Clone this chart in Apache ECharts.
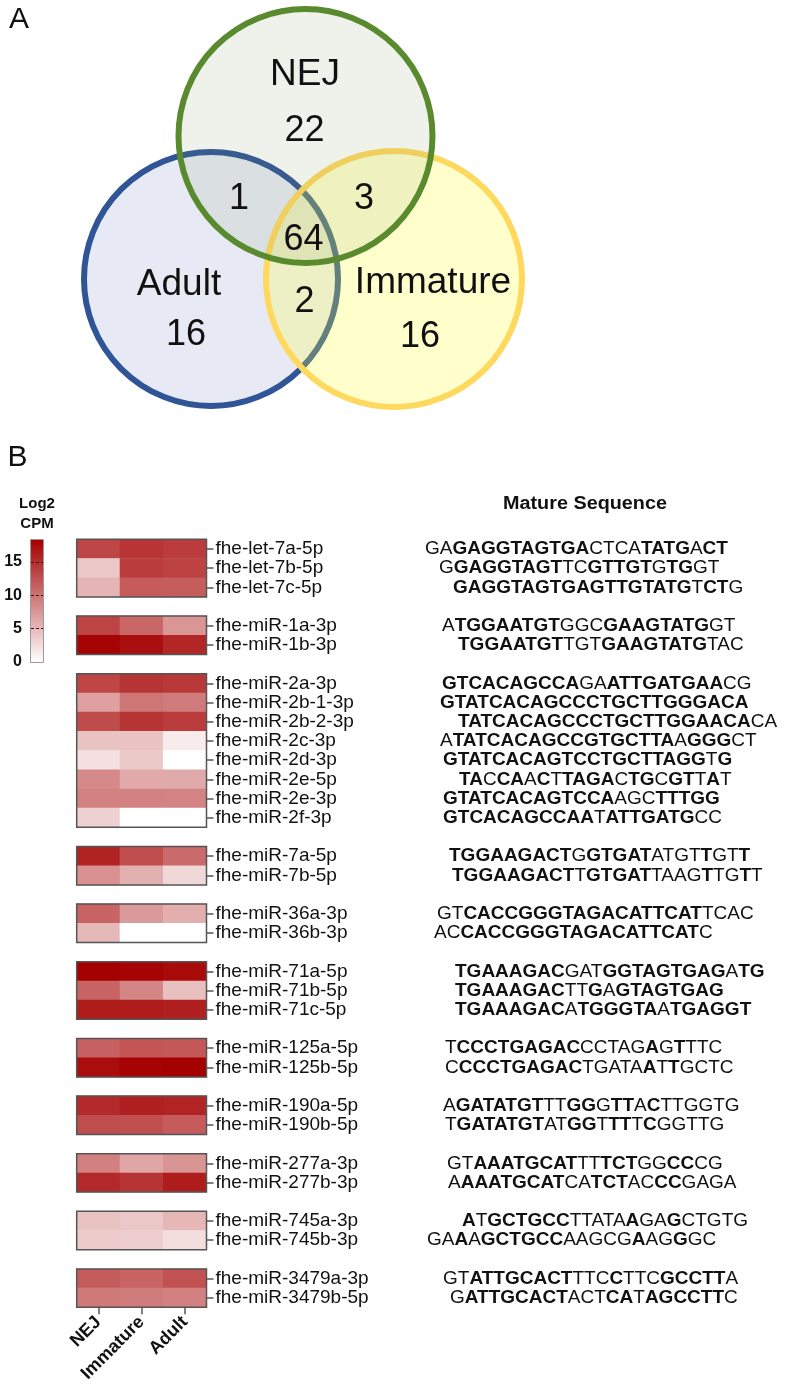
<!DOCTYPE html>
<html><head><meta charset="utf-8">
<script src="https://cdn.jsdelivr.net/npm/echarts@6/dist/echarts.min.js"></script>
<style>html,body{margin:0;padding:0;background:#fff}#c{width:786px;height:1395px}</style>
</head><body><div id="c"></div>
<script>
// ---------------- DATA ----------------
const vennRegions = ['NEJ', 'Adult', 'Immature', 'NEJ∩Adult', 'NEJ∩Immature', 'Adult∩Immature', 'NEJ∩Adult∩Immature'];
const vennCounts  = [22, 16, 16, 1, 3, 2, 64];

const stages = ['NEJ', 'Immature', 'Adult'];
const miRNAs = [
  'fhe-let-7a-5p','fhe-let-7b-5p','fhe-let-7c-5p',
  'fhe-miR-1a-3p','fhe-miR-1b-3p',
  'fhe-miR-2a-3p','fhe-miR-2b-1-3p','fhe-miR-2b-2-3p','fhe-miR-2c-3p','fhe-miR-2d-3p','fhe-miR-2e-5p','fhe-miR-2e-3p','fhe-miR-2f-3p',
  'fhe-miR-7a-5p','fhe-miR-7b-5p',
  'fhe-miR-36a-3p','fhe-miR-36b-3p',
  'fhe-miR-71a-5p','fhe-miR-71b-5p','fhe-miR-71c-5p',
  'fhe-miR-125a-5p','fhe-miR-125b-5p',
  'fhe-miR-190a-5p','fhe-miR-190b-5p',
  'fhe-miR-277a-3p','fhe-miR-277b-3p',
  'fhe-miR-745a-3p','fhe-miR-745b-3p',
  'fhe-miR-3479a-3p','fhe-miR-3479b-5p'
];
const groupSizes = [3, 2, 8, 2, 2, 3, 2, 2, 2, 2, 2];
const nejCPM      = [13.3, 4.0, 5.3, 13.4, 18.0, 13.3, 6.8, 12.9, 4.3, 2.2, 8.5, 9.0, 3.3, 15.8, 8.0, 11.1, 5.0, 18.3, 11.1, 16.3, 11.4, 17.4, 15.3, 12.8, 9.1, 15.4, 4.4, 3.7, 11.7, 9.6];
const immatureCPM = [14.5, 14.0, 11.8, 11.0, 17.2, 14.6, 9.9, 14.6, 4.2, 3.9, 6.2, 9.0, 0.0, 12.8, 5.7, 7.2, 0.0, 18.0, 8.7, 16.3, 12.2, 18.1, 16.0, 12.6, 6.4, 14.6, 4.0, 3.6, 11.1, 9.5];
const adultCPM    = [14.0, 13.5, 11.6, 7.6, 15.6, 14.3, 9.5, 14.0, 1.4, 0.0, 6.1, 8.9, 0.0, 10.7, 2.8, 5.8, 0.0, 17.5, 4.5, 16.0, 12.0, 18.3, 15.7, 11.8, 7.7, 16.3, 5.2, 2.4, 12.4, 9.1];
// upper case = bold (conserved), lower case = regular
const sequences = [
  'gaGAGGTAGTGActcaTATGaCT','gGAGGTAGTtcGTTGTgTGgt','GAGGTAGTGAGTTGTATGtCTg',
  'aTGGAATGTggcGAAGTATGgt','TGGAATGTtgtGAAGTATGtac',
  'GTCACAGCCAgaATTGATGAAcg','GTATCACAGCCCTGCTTGGGACA','TATCACAGCCCTGCTTGGAACAca','aTATCACAGCCGTGCTTAaGGGct',
  'GTATCACAGTCCTGCTTAGGtG','TAcCAaCtTAGAcTGcGTtAt','GTATCACAGTCCAagcTTTGG','GTCACAGCCAAtATTGATGcc',
  'TGGAAGACTgGTGATatgtTgtT','TGGAAGACTtGTGATtaagTtgTt',
  'gtCACCGGGTAGACATTCATtcac','acCACCGGGTAGACATTCATc',
  'TGAAAGACgatGGTAGTGAGaTG','TGAAAGACttGaGTAGTGAG','TGAAAGACaTGGGTAaTGAGGT',
  'tCCCTGAGACcctagAgTttc','cCCCTGAGACtgataAtTgctc',
  'aGATATGTttGGgTTaCttggtg','tGATATGTatGGtTTtCggttg',
  'gtAAATGCATttTCTggCCcg','aAAATGCATcaTCTacCCgaga',
  'AtGCTGCCttataAgaGctgtg','gaAaGCTGCCaagcgAagGgc',
  'gtATTGCACTttcCttcGCCTTa','gATTGCACTactCAtAGCCTTc'
];
const colorTicks = [0, 5, 10, 15];
const colorMax = 18.3;

// ---------------- LAYOUT (not data) ----------------
const FONT = '"Liberation Sans", Arial, Helvetica, sans-serif';
const seqStartX = [425,439,453, 442,458, 442,440,458,440,443,459,443,443, 449,452, 437,434, 455,455,455, 445,445, 443,445, 447,448, 462,427, 443,450];
const vennShapes = [
  {set: 'Adult',    cx: 211,   cy: 279, r: 127, fill: '#E7EAF4',               stroke: '#2F5597'},
  {set: 'Immature', cx: 394,   cy: 279, r: 128, fill: 'rgba(255,255,51,0.25)', stroke: '#FFD85E'},
  {set: 'NEJ',      cx: 305.5, cy: 136, r: 127, fill: 'rgba(120,150,90,0.12)', stroke: '#5A8A2E'}
];
const vennLabelPos = [[304.5, 131.5], [186, 335], [420, 337.5], [239, 199], [364, 199], [304.5, 302.5], [303.5, 240]];
const vennNamePos = {NEJ: [305, 74.5], Adult: [179, 285], Immature: [433, 282.5]};

// ---------------- BUILD ----------------
const rowNames = [], rowOf = [], blocks = [];
(function () {
  let r = 0, k = 0;
  groupSizes.forEach((n, gi) => {
    if (gi > 0) { rowNames.push('_gap' + gi); r++; }
    const start = r;
    for (let j = 0; j < n; j++) { rowNames.push(miRNAs[k]); rowOf.push(r); r++; k++; }
    blocks.push([0, start, r - 1]);
  });
})();
const isGap = v => String(v).indexOf('_gap') === 0;
const heatData = [];
miRNAs.forEach((m, i) => {
  heatData.push([0, rowOf[i], nejCPM[i]]);
  heatData.push([1, rowOf[i], immatureCPM[i]]);
  heatData.push([2, rowOf[i], adultCPM[i]]);
});
function toRich(s) {
  let out = '', cur = null, buf = '';
  for (const ch of s) {
    const b = ch === ch.toUpperCase();
    if (cur !== null && b !== cur) { out += '{' + (cur ? 'b' : 'r') + '|' + buf + '}'; buf = ''; }
    cur = b; buf += ch.toUpperCase();
  }
  if (buf) out += '{' + (cur ? 'b' : 'r') + '|' + buf + '}';
  return out;
}
const seqData = miRNAs.map((m, i) => [2, rowOf[i], i]);

const graphics = [];
vennShapes.forEach(s => graphics.push({
  type: 'circle', shape: {cx: s.cx, cy: s.cy, r: s.r},
  style: {fill: s.fill, stroke: s.stroke, lineWidth: 6}, silent: true
}));
function txt(x, y, text, size, extra) {
  return Object.assign({
    type: 'text', x: x, y: y, silent: true,
    style: Object.assign({text: text, fontSize: size, fontFamily: FONT, fill: '#111',
      align: 'center', verticalAlign: 'middle', textAlign: 'center', textVerticalAlign: 'middle'}, (extra && extra.style) || {})
  }, extra && extra.el || {});
}
['NEJ', 'Adult', 'Immature'].forEach(n => graphics.push(txt(vennNamePos[n][0], vennNamePos[n][1], n, 37)));
vennCounts.forEach((c, i) => graphics.push(txt(vennLabelPos[i][0], vennLabelPos[i][1], String(c), 36)));
graphics.push(txt(19, 20, 'A', 30));
graphics.push(txt(17.5, 458, 'B', 30));
graphics.push(txt(37, 504, 'Log2', 15, {style: {fontWeight: 'bold'}}));
graphics.push(txt(37, 524, 'CPM', 15, {style: {fontWeight: 'bold'}}));
graphics.push(txt(585, 504.5, 'Mature Sequence', 18, {style: {fontWeight: 'bold'}, el: {scaleX: 1.1}}));

const chart = echarts.init(document.getElementById('c'), null, {renderer: 'canvas'});
chart.setOption({
  animation: false,
  backgroundColor: '#ffffff',
  textStyle: {fontFamily: FONT},
  grid: [
    {left: 76.7, top: 539.3, width: 129.8, height: 768, show: false, outerBoundsMode: 'none'},
    {left: 31, top: 540, width: 12, height: 122, show: true, borderColor: '#7a7a7a', borderWidth: 1.5, outerBoundsMode: 'none'}
  ],
  xAxis: [
    {gridIndex: 0, type: 'category', data: stages, position: 'bottom',
     axisLine: {show: false},
     axisTick: {show: true, alignWithLabel: true, length: 7, lineStyle: {color: '#555', width: 1.5}},
     axisLabel: {rotate: 45, fontSize: 18, fontWeight: 'bold', color: '#111', margin: 12, fontFamily: FONT},
     splitLine: {show: false}},
    {gridIndex: 1, type: 'category', data: ['c'], show: false}
  ],
  yAxis: [
    {gridIndex: 0, type: 'category', data: rowNames, inverse: true, position: 'right',
     axisLine: {show: false},
     axisTick: {show: true, alignWithLabel: true, length: 7, interval: (i, v) => !isGap(v), lineStyle: {color: '#555', width: 1.5}},
     axisLabel: {interval: 0, margin: 9, fontSize: 19, color: '#111', fontFamily: FONT, formatter: v => isGap(v) ? '' : v},
     splitLine: {show: false}},
    {gridIndex: 1, type: 'value', min: 0, max: colorMax, interval: 5, position: 'left',
     axisLine: {show: false}, axisTick: {show: false}, splitLine: {show: false},
     axisLabel: {showMaxLabel: false, fontSize: 16, fontWeight: 'bold', color: '#111', margin: 9, fontFamily: FONT,
       formatter: v => colorTicks.indexOf(v) >= 0 ? String(v) : ''}}
  ],
  visualMap: {show: false, type: 'continuous', min: 0, max: colorMax, seriesIndex: 0, dimension: 2,
    inRange: {color: ['#FFFFFF', '#A50000']}},
  graphic: {elements: graphics},
  series: [
    {type: 'heatmap', xAxisIndex: 0, yAxisIndex: 0, data: heatData, emphasis: {disabled: true}, silent: true, progressive: 0},
    {type: 'custom', xAxisIndex: 0, yAxisIndex: 0, data: blocks, encode: {x: 0, y: 1}, silent: true, z: 5, clip: false,
     renderItem: (params, api) => {
       const sz = api.size([1, 1]);
       const p0 = api.coord([0, api.value(1)]);
       const p1 = api.coord([2, api.value(2)]);
       return {type: 'rect', shape: {x: p0[0] - sz[0] / 2, y: p0[1] - sz[1] / 2, width: p1[0] - p0[0] + sz[0], height: p1[1] - p0[1] + sz[1]},
               style: {fill: null, stroke: '#555', lineWidth: 1.5}};
     }},
    {type: 'custom', xAxisIndex: 0, yAxisIndex: 0, data: seqData, encode: {x: 0, y: 1}, silent: true, clip: false,
     renderItem: (params, api) => {
       const i = api.value(2);
       const y = api.coord([0, api.value(1)])[1];
       return {type: 'text', x: seqStartX[i], y: y,
         style: {text: toRich(sequences[i]), fontSize: 19, fontFamily: FONT, fill: '#111',
           align: 'left', verticalAlign: 'middle', textAlign: 'left', textVerticalAlign: 'middle',
           rich: {b: {fontWeight: 'bold', fontSize: 19, fontFamily: FONT, fill: '#111'},
                  r: {fontWeight: 'normal', fontSize: 19, fontFamily: FONT, fill: '#111'}}}};
     }},
    {type: 'bar', xAxisIndex: 1, yAxisIndex: 1, data: [colorMax], barWidth: '100%', silent: true,
     itemStyle: {color: {type: 'linear', x: 0, y: 0, x2: 0, y2: 1, colorStops: [{offset: 0, color: '#A50000'}, {offset: 1, color: '#FFFFFF'}]}},
     markLine: {silent: true, symbol: ['none', 'none'], label: {show: false},
       lineStyle: {type: [3, 2], color: '#4a1010', width: 1.2},
       data: colorTicks.filter(t => t > 0).map(t => ({yAxis: t}))}}
  ]
});
</script></body></html>
